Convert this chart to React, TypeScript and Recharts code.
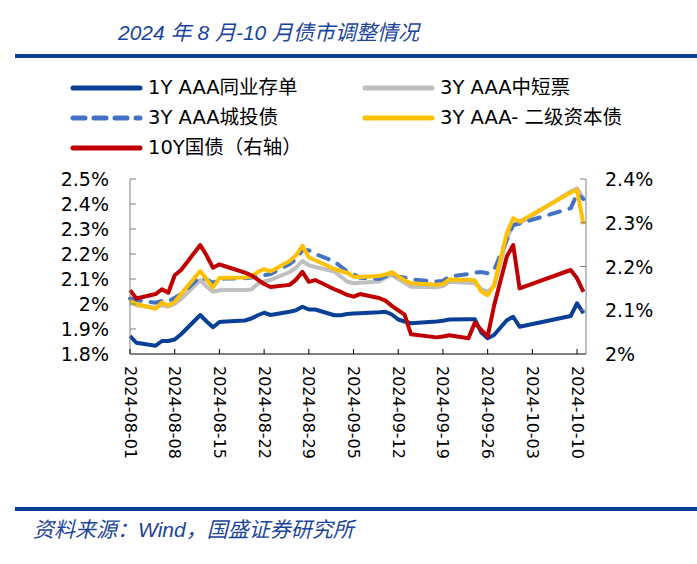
import { LineChart, Line, XAxis, YAxis } from 'recharts';

const dates = [
  '2024-08-01', '2024-08-02', '2024-08-05', '2024-08-06', '2024-08-07', '2024-08-08', '2024-08-09',
  '2024-08-12', '2024-08-13', '2024-08-14', '2024-08-15', '2024-08-16', '2024-08-19', '2024-08-20',
  '2024-08-21', '2024-08-22', '2024-08-23', '2024-08-26', '2024-08-27', '2024-08-28', '2024-08-29',
  '2024-08-30', '2024-09-02', '2024-09-03', '2024-09-04', '2024-09-05', '2024-09-06', '2024-09-09',
  '2024-09-10', '2024-09-11', '2024-09-12', '2024-09-13', '2024-09-14', '2024-09-18', '2024-09-19',
  '2024-09-20', '2024-09-23', '2024-09-24', '2024-09-25', '2024-09-26', '2024-09-27', '2024-09-29',
  '2024-09-30', '2024-10-01', '2024-10-09', '2024-10-10', '2024-10-11',
];

// 1Y AAA 同业存单
const cd1y = [
  1.872, 1.845, 1.833, 1.852, 1.852, 1.858, 1.879, 1.956, 1.930, 1.907, 1.928, 1.930, 1.934, 1.942,
  1.955, 1.965, 1.956, 1.969, 1.975, 1.989, 1.978, 1.978, 1.955, 1.955, 1.960, 1.962, 1.963, 1.967,
  1.969, 1.958, 1.938, 1.930, 1.923, 1.930, 1.933, 1.938, 1.939, 1.939, 1.886, 1.863, 1.876, 1.935,
  1.949, 1.909, 1.952, 2.003, 1.963,
];
// 3Y AAA 中短票
const mtn3y = [
  2.005, 1.995, 1.985, 1.995, 1.990, 2.000, 2.020, 2.096, 2.070, 2.049, 2.055, 2.056, 2.056, 2.058,
  2.080, 2.090, 2.096, 2.128, 2.145, 2.172, 2.155, 2.148, 2.130, 2.110, 2.090, 2.083, 2.085, 2.090,
  2.105, 2.116, 2.100, 2.085, 2.069, 2.067, 2.072, 2.089, 2.085, 2.083, 2.060, 2.050, 2.070, 2.260,
  2.316, 2.323, 2.450, 2.463, 2.423,
];
// 3Y AAA 城投债
const lgfv3y = [
  2.022, 2.015, 2.005, 2.012, 2.010, 2.025, 2.040, 2.108, 2.098, 2.085, 2.100, 2.102, 2.103, 2.106,
  2.110, 2.115, 2.120, 2.160, 2.180, 2.215, 2.215, 2.200, 2.170, 2.150, 2.130, 2.120, 2.105, 2.100,
  2.110, 2.120, 2.110, 2.105, 2.098, 2.090, 2.092, 2.110, 2.120, 2.125, 2.128, 2.123, 2.135, 2.257,
  2.316, 2.322, 2.383, 2.440, 2.420,
];
// 3Y AAA- 二级资本债
const tier2 = [
  2.012, 2.000, 1.981, 2.006, 1.994, 2.008, 2.040, 2.132, 2.098, 2.066, 2.104, 2.105, 2.106, 2.110,
  2.128, 2.140, 2.130, 2.172, 2.195, 2.233, 2.186, 2.175, 2.140, 2.132, 2.125, 2.110, 2.108, 2.112,
  2.118, 2.127, 2.110, 2.095, 2.083, 2.077, 2.080, 2.098, 2.097, 2.094, 2.050, 2.035, 2.076, 2.282,
  2.343, 2.329, 2.446, 2.456, 2.319,
];
// 10Y 国债（右轴）
const cgb10y = [
  2.146, 2.127, 2.137, 2.148, 2.140, 2.180, 2.192, 2.249, 2.225, 2.197, 2.205, 2.200, 2.186, 2.180,
  2.170, 2.160, 2.153, 2.158, 2.170, 2.188, 2.165, 2.169, 2.148, 2.142, 2.135, 2.131, 2.137, 2.128,
  2.122, 2.110, 2.100, 2.090, 2.045, 2.038, 2.040, 2.043, 2.036, 2.072, 2.055, 2.040, 2.110, 2.223,
  2.249, 2.150, 2.192, 2.173, 2.142,
];

const xTickLabels = [
  '2024-08-01', '2024-08-08', '2024-08-15', '2024-08-22', '2024-08-29', '2024-09-05',
  '2024-09-12', '2024-09-19', '2024-09-26', '2024-10-03', '2024-10-10',
];
const leftTicks = [1.8, 1.9, 2.0, 2.1, 2.2, 2.3, 2.4, 2.5];
const rightTicks = [2.0, 2.1, 2.2, 2.3, 2.4];

const dayOf = (d: string) => (Date.parse(d) - Date.parse(dates[0])) / 86400000;

const data = dates.map((d, i) => ({
  day: dayOf(d),
  cd1y: cd1y[i],
  mtn3y: mtn3y[i],
  lgfv3y: lgfv3y[i],
  tier2: tier2[i],
  cgb10y: cgb10y[i],
}));

const BLUE = '#0A3F98';
const GREY = '#BFBFBF';
const DASH = '#4472C4';
const GOLD = '#FFC000';
const RED = '#C00000';
const TITLE_BLUE = '#1A449C';
const RULE_BLUE = '#0B3D91';
const FONT = '"DejaVu Sans", "Noto Sans CJK SC", sans-serif';
const NOTE_FONT = '"Liberation Sans", "Noto Sans CJK SC", sans-serif';
const DASHES = '11 10';

const pct = (v: number) => `${parseFloat(v.toFixed(1))}%`;

const XTick = ({ x, y, payload }: any) => {
  const label = xTickLabels.find((l) => dayOf(l) === payload.value) ?? '';
  const ty = y + 12;
  return (
    <g>
      <line x1={x} x2={x} y1={y} y2={y - 5} stroke="#000" />
      <text
        x={x}
        y={ty}
        transform={`rotate(90, ${x}, ${ty})`}
        textAnchor="start"
        dominantBaseline="central"
        fontSize={16}
        fontFamily={FONT}
        fill="#000"
      >
        {label}
      </text>
    </g>
  );
};

const LeftTick = ({ x, y, payload }: any) => (
  <g>
    <line x1={x} x2={x + 6} y1={y} y2={y} stroke="#808080" />
    <text x={x - 21} y={y} textAnchor="end" dominantBaseline="central" fontSize={19} fontFamily={FONT} fill="#000">
      {pct(payload.value)}
    </text>
  </g>
);

const RightTick = ({ x, y, payload }: any) => (
  <g>
    <line x1={x} x2={x - 6} y1={y} y2={y} stroke="#808080" />
    <text x={x + 19} y={y} textAnchor="start" dominantBaseline="central" fontSize={19} fontFamily={FONT} fill="#000">
      {pct(payload.value)}
    </text>
  </g>
);

const legendItems = [
  { name: '1Y AAA同业存单', color: BLUE, dashed: false, left: 70, top: 88 },
  { name: '3Y AAA中短票', color: GREY, dashed: false, left: 362, top: 88 },
  { name: '3Y AAA城投债', color: DASH, dashed: true, left: 70, top: 118 },
  { name: '3Y AAA- 二级资本债', color: GOLD, dashed: false, left: 362, top: 118 },
  { name: '10Y国债（右轴）', color: RED, dashed: false, left: 70, top: 148 },
];

const App = () => {
  return (
    <div style={{ position: 'absolute', left: 0, top: 0, width: 697, height: 564, background: '#fff' }}>
      <div
        style={{
          position: 'absolute',
          left: 118,
          top: 21,
          fontSize: 21,
          lineHeight: '24px',
          fontStyle: 'italic',
          color: TITLE_BLUE,
          fontFamily: NOTE_FONT,
          whiteSpace: 'nowrap',
        }}
      >
        2024 年 8 月-10 月债市调整情况
      </div>
      <div style={{ position: 'absolute', left: 15, top: 54, width: 682, height: 4, background: RULE_BLUE }} />

      {legendItems.map((s) => (
        <div key={s.name}>
          <svg style={{ position: 'absolute', left: s.left, top: s.top - 4 }} width={73} height={8}>
            <line
              x1={3}
              x2={70}
              y1={4}
              y2={4}
              stroke={s.color}
              strokeWidth={5}
              strokeLinecap="round"
              strokeDasharray={s.dashed ? '12 9' : undefined}
            />
          </svg>
          <span
            style={{
              position: 'absolute',
              left: s.left + 78,
              top: s.top - 12,
              fontSize: 19.5,
              lineHeight: '24px',
              fontFamily: FONT,
              color: '#000',
              whiteSpace: 'nowrap',
            }}
          >
            {s.name}
          </span>
        </div>
      ))}

      <div style={{ position: 'absolute', left: 0, top: 0 }}>
        <LineChart width={697} height={564} data={data} margin={{ top: 179, right: 0, bottom: 100, left: 0 }}>
          <XAxis
            dataKey="day"
            type="number"
            domain={[0, 71.4]}
            ticks={xTickLabels.map(dayOf)}
            interval={0}
            height={110}
            tickSize={0}
            tickMargin={0}
            tickLine={false}
            axisLine={{ stroke: '#000' }}
            tick={XTick}
          />
          <YAxis
            yAxisId="left"
            orientation="left"
            domain={[1.8, 2.5]}
            ticks={leftTicks}
            interval={0}
            width={130}
            tickSize={0}
            tickMargin={0}
            tickLine={false}
            axisLine={{ stroke: '#808080' }}
            tick={LeftTick}
          />
          <YAxis
            yAxisId="right"
            orientation="right"
            domain={[2.0, 2.4]}
            ticks={rightTicks}
            interval={0}
            width={111}
            tickSize={0}
            tickMargin={0}
            tickLine={false}
            axisLine={{ stroke: '#808080' }}
            tick={RightTick}
          />
          <Line yAxisId="left" dataKey="cd1y" stroke={BLUE} strokeWidth={4} dot={false} isAnimationActive={false} strokeLinejoin="round" />
          <Line yAxisId="left" dataKey="mtn3y" stroke={GREY} strokeWidth={4} dot={false} isAnimationActive={false} strokeLinejoin="round" />
          <Line
            yAxisId="left"
            dataKey="lgfv3y"
            stroke={DASH}
            strokeWidth={4}
            strokeDasharray={DASHES}
            strokeLinecap="round"
            dot={false}
            isAnimationActive={false}
          />
          <Line yAxisId="left" dataKey="tier2" stroke={GOLD} strokeWidth={4} dot={false} isAnimationActive={false} strokeLinejoin="round" />
          <Line yAxisId="right" dataKey="cgb10y" stroke={RED} strokeWidth={4} dot={false} isAnimationActive={false} strokeLinejoin="round" />
        </LineChart>
      </div>

      <div style={{ position: 'absolute', left: 15, top: 507, width: 682, height: 4, background: RULE_BLUE }} />
      <div
        style={{
          position: 'absolute',
          left: 33,
          top: 518,
          fontSize: 21,
          lineHeight: '24px',
          fontStyle: 'italic',
          color: TITLE_BLUE,
          fontFamily: NOTE_FONT,
          whiteSpace: 'nowrap',
        }}
      >
        资料来源：Wind，国盛证券研究所
      </div>
    </div>
  );
};

export default App;
